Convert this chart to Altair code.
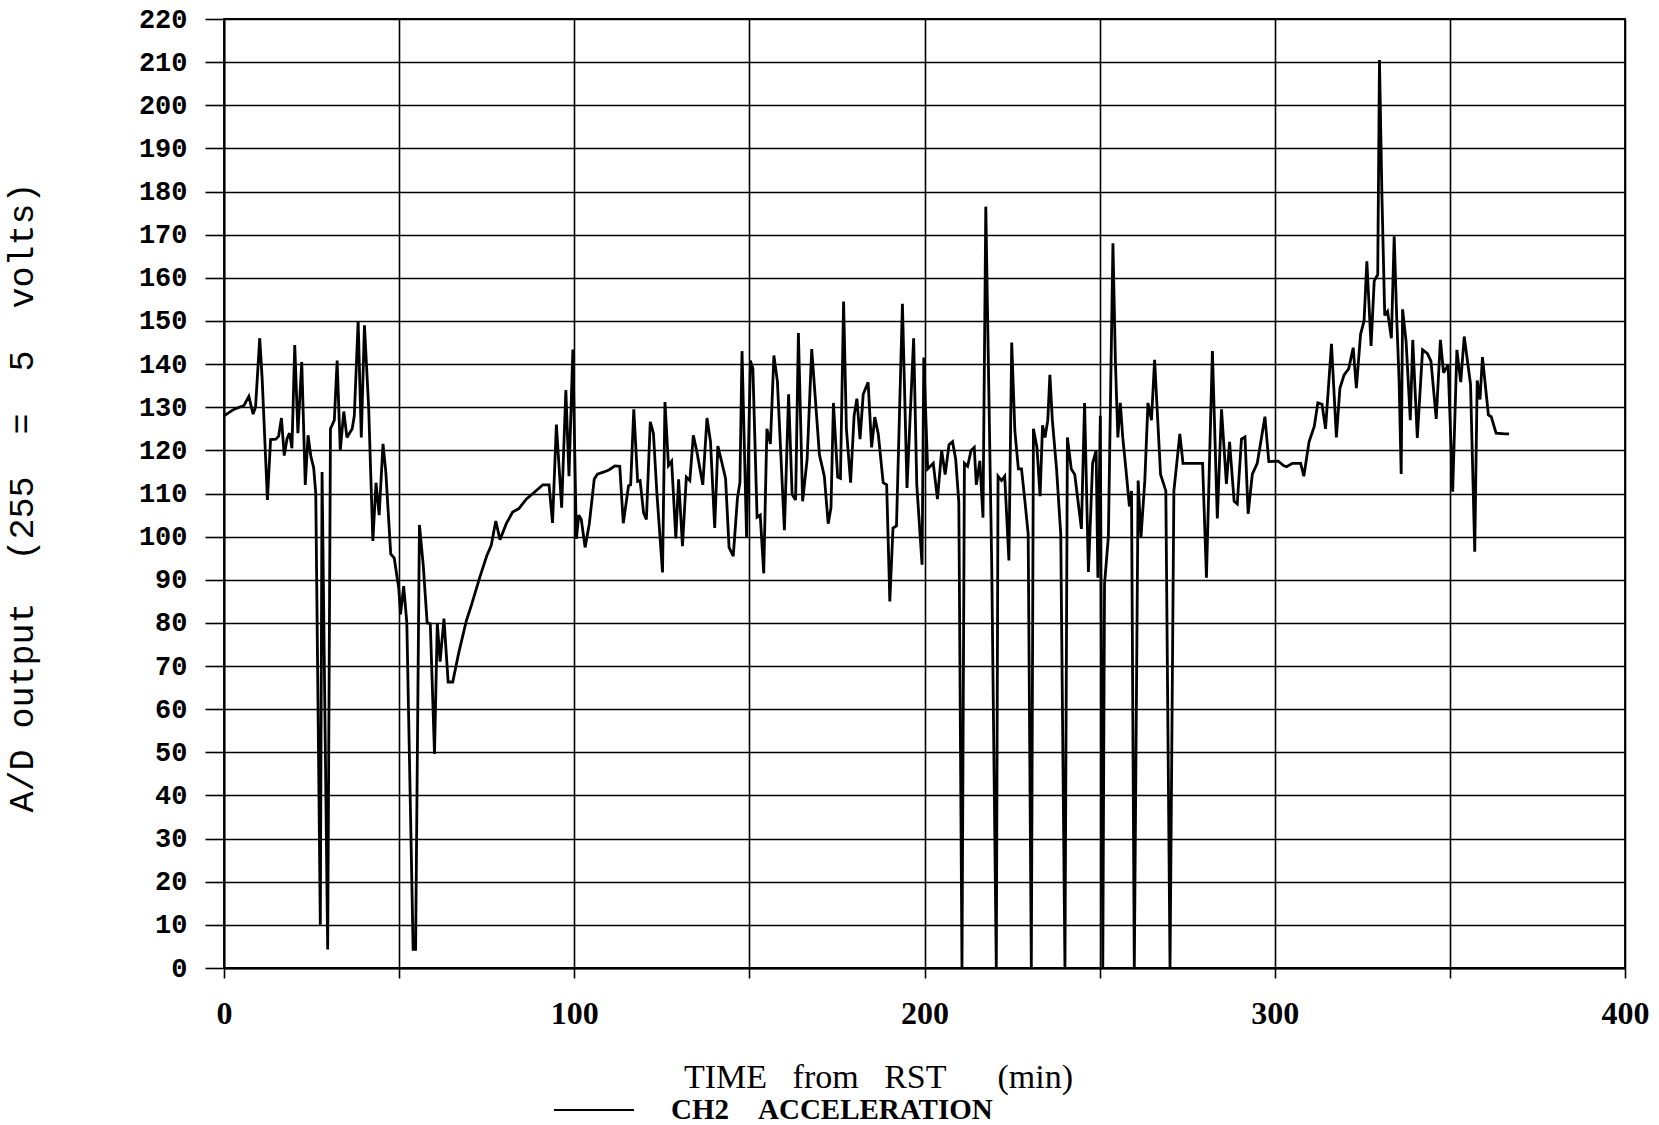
import altair as alt
import pandas as pd

# Time from RST (min)
time_min = [
    0, 2.8, 5.7, 7.1, 8.3, 9, 10.2, 10.9, 12.4, 13.3, 14.8, 15.6, 16.4, 17.2, 18, 18.7, 19.4, 20.2, 21.1, 22.2,
    23.2, 24, 24.8, 25.6, 26.2, 27.5, 28, 29.6, 30.4, 31.5, 32.3, 33.2, 34.2, 35.1, 36.6, 37.2, 38.3, 39.2, 40.1, 41.3,
    42.5, 43.4, 44.3, 45.4, 46.2, 47.6, 48.6, 49.9, 50.4, 51.3, 52.2, 54, 54.7, 55.8, 56.9, 58, 58.9, 60.1, 60.9, 61.7,
    62.8, 64, 65.3, 67, 69.2, 70.6, 73, 75, 76.3, 77.6, 78.8, 80.6, 82.4, 84.2, 86.3, 88.2, 91, 92.8, 93.8, 94.9,
    96.4, 97.6, 98.5, 99.6, 100.6, 101.3, 102, 103.1, 104.3, 105.7, 106.6, 108.5, 110, 111.6, 113, 114, 115.5, 116.1, 117, 118.1,
    118.8, 119.8, 120.6, 121.7, 122.6, 123.6, 125.2, 125.9, 126.9, 127.8, 129, 129.8, 130.9, 132, 133, 134,
    135.1, 136.7, 137.9, 138.9, 140.1, 141, 142.2, 143.2, 144.2, 145.4, 146.6, 147.3, 147.9, 149.2, 150.3, 151, 152.2, 153.1, 154.1, 155,
    156, 157, 158, 160, 161.2, 162.2, 163.2, 164, 165.2, 166.5, 167.8, 170, 171.4, 172.5, 173.3, 174, 175.2, 176, 176.9, 177.7,
    178.9, 179.9, 180.7, 181.6, 182.5, 183.9, 184.9, 185.8, 186.8, 188.2, 189.2, 190.1, 191, 192, 193.7, 195, 196.9, 197.8, 199.3, 199.8,
    200.9, 202.5, 203.7, 204.9, 205.9, 207, 208, 208.9, 209.8, 210.7, 211.4, 212.3, 213.3, 214.2, 214.8, 215.8, 216.7, 217.5, 218.2, 219.2,
    220.5, 221, 222, 222.9, 224.1, 224.9, 225.8, 226.8, 227.7, 228.7, 229.6, 230.5, 231.1, 232.1, 233, 233.7, 234.4, 235.2, 235.8, 236.5,
    237.7, 238.9, 240.1, 240.8, 241.9, 242.9, 244.8, 245.7, 246.8, 248, 249, 249.5, 250.2, 250.9, 251.4, 252.5, 253.8, 254.5, 255.2, 255.9,
    256.6, 257.5, 258.5, 259.1, 259.9, 261, 261.8, 262.9, 263.8, 264.8, 265.7, 266.5, 267.4, 268.9, 270.1, 271.2, 272.9, 273.8, 276,
    279.4, 280.5, 282.2, 283.6, 284.8, 286.2, 287.1, 288.4, 289.3, 290.5, 291.5, 292.4, 293.6, 295, 297.2, 298.3, 301, 302.5, 303.4, 305,
    307.4, 308.3, 309.8, 311.3, 312.3, 313.5, 314.5, 316.2, 317.6, 318.6, 319.8, 321.1, 322.4, 323.3, 324.5, 325.5, 326.3, 327.5, 328.4, 329.4,
    329.9, 330.6, 331.4, 332.2, 333.3, 334.1, 334.8, 335.5, 336.1, 336.5, 337.5, 338.7, 339.4, 340.7, 342.2, 343.6, 344.6, 346.1, 347.3, 348.2,
    349.5, 350.8, 352, 353.1, 354.1, 355.9, 357.1, 357.8, 358.6, 359.3, 361, 361.8, 363.2, 365.7, 366.9,
]

# A/D output (CH2 acceleration)
ad_output = [
    128, 129.5, 130.4, 132.5, 128.4, 130, 146, 136.5, 108.5, 122.5, 122.6, 123.3, 127.5, 118.8, 122.7, 124, 120.5, 144.4, 124, 140.5,
    112, 123.5, 118.6, 116, 110, 10, 115, 4.3, 125, 127, 140.8, 120, 129, 123, 125, 128, 150, 123, 149, 130,
    99, 112.5, 105, 121.5, 115, 96, 95, 88, 82, 88.5, 80, 4.3, 4.3, 102.7, 93.2, 80, 79.8, 49.6, 80, 71,
    81, 66.3, 66.3, 73, 80.5, 84, 90.5, 95.5, 98, 103.6, 99.3, 103, 105.7, 106.5, 108.7, 110, 112, 112, 103.2, 126,
    106.7, 134, 114, 143.4, 99.5, 105, 104, 97.5, 103, 113.3, 114.5, 115, 115.5, 116.4, 116.3, 103.1, 111.8, 112, 129.5, 112.8,
    113, 105.5, 104, 126.6, 124, 110, 91.7, 131.2, 116.5, 117.5, 99.6, 113.3, 97.8, 113.8, 113, 123.5,
    119.3, 112, 127.5, 122, 102, 121, 117, 113.5, 97.5, 95.5, 109, 112.5, 143, 99.8, 140.8, 139, 104.5, 105, 91.5, 125,
    121.5, 142, 136, 101.5, 133, 109.8, 108.5, 147.2, 108.2, 118, 143.5, 119, 114, 103, 106.7, 131, 113.8, 113.5, 154.5, 125,
    112.5, 128, 132, 122.6, 133, 135.8, 120.7, 127.7, 123.8, 112.5, 112, 85, 102, 102.5, 154, 111.3, 146, 112, 93.5, 141.5,
    115.7, 117, 108.7, 120, 114.4, 121.3, 122, 118, 108, 0, 117, 116.3, 120, 120.7, 112, 117.6, 104.4, 176.5, 142, 93,
    0, 114, 113, 114, 94.5, 145, 124.5, 115.7, 115.7, 108, 100.6, 0, 125, 120.7, 109.4, 125.8, 123, 127, 137.5, 127,
    115.7, 100.6, 0, 123, 115.7, 114.4, 101.8, 131, 91.8, 117, 120, 90.5, 128, 0, 89, 100, 168, 140.8, 123, 131,
    123, 115.7, 107, 110.6, 0, 113, 99.8, 113, 131, 127, 141, 128.4, 114.4, 110.6, 0, 110.6, 123.8, 117, 117,
    117, 90.5, 143, 104.2, 129.5, 112.2, 122, 108.2, 107.6, 122.6, 123.1, 105.3, 114.5, 117, 127.8, 117.4, 117.5, 116.5, 116.2, 117,
    117, 114, 122, 125.6, 131, 130.7, 125, 144.7, 123, 134.4, 137.5, 138.9, 143.8, 134.4, 146.9, 150, 163.8, 144.2, 159.3, 160.7,
    210.5, 179, 151.3, 152.2, 146, 169.6, 151.3, 136.2, 114.5, 152.7, 145.2, 127, 145.6, 122.9, 143.3, 142.4, 140.7, 127.3, 145.6, 138,
    139.8, 110.4, 143.3, 135.8, 146.4, 135.3, 96.5, 136.2, 131.8, 141.6, 128.2, 127.8, 124, 123.8, 123.8,
]

NB = "\u00a0"
series_name = "CH2" + NB * 4 + "ACCELERATION"
x_title = "TIME" + NB * 3 + "from" + NB * 3 + "RST" + NB * 6 + "(min)"
y_title = "A/D" + NB + "output" + NB * 2 + "(255" + NB * 2 + "=" + NB * 2 + "5" + NB * 2 + "volts)"
x_ticks = [0, 50, 100, 150, 200, 250, 300, 350, 400]
y_ticks = list(range(0, 221, 10))

df = pd.DataFrame({"t": time_min, "v": ad_output, "series": series_name})

chart = (
    alt.Chart(df)
    .mark_line(strokeWidth=2.8, strokeJoin="miter", strokeMiterLimit=3)
    .encode(
        x=alt.X(
            "t:Q",
            scale=alt.Scale(domain=[0, 400], nice=False, zero=False),
            axis=alt.Axis(
                values=x_ticks,
                labelExpr="datum.value % 100 == 0 ? datum.label : ''",
                title=x_title,
                titleFont="Liberation Serif",
                titleFontSize=34,
                titleFontWeight="normal",
                titleColor="black",
                titleX=654,
                titleY=109,
                titleBaseline="middle",
                labelFont="Liberation Serif",
                labelFontSize=32,
                labelFontWeight="bold",
                labelColor="black",
                labelPadding=20,
                labelFlush=False,
                tickSize=10,
                tickColor="black",
                tickWidth=1.6,
                grid=True,
                gridColor="black",
                gridWidth=1.6,
                gridOpacity=1,
                domainColor="black",
                domainWidth=1.8,
            ),
        ),
        y=alt.Y(
            "v:Q",
            scale=alt.Scale(domain=[0, 220], nice=False),
            axis=alt.Axis(
                values=y_ticks,
                format="d",
                title=y_title,
                titleFont="Liberation Mono",
                titleFontSize=35,
                titleFontWeight="normal",
                titleColor="black",
                titleAngle=270,
                titleX=-203,
                titleY=478,
                titleAlign="center",
                titleBaseline="middle",
                labelFont="Liberation Mono",
                labelFontSize=27,
                labelFontWeight="bold",
                labelColor="black",
                labelPadding=18,
                labelFlush=False,
                tickSize=19,
                tickColor="black",
                tickWidth=1.6,
                grid=True,
                gridColor="black",
                gridWidth=1.6,
                gridOpacity=1,
                domainColor="black",
                domainWidth=1.8,
            ),
        ),
        color=alt.Color(
            "series:N",
            scale=alt.Scale(range=["black"]),
            legend=alt.Legend(
                title=None,
                orient="none",
                legendX=329,
                legendY=1050,
                symbolType="stroke",
                symbolSize=6400,
                symbolStrokeWidth=2,
                symbolStrokeColor="black",
                labelFont="Liberation Serif",
                labelFontSize=29,
                labelFontWeight="bold",
                labelColor="black",
                labelOffset=36,
                labelLimit=1000,
                padding=0,
            ),
        ),
    )
    .properties(
        width=1401,
        height=949,
        autosize=alt.AutoSizeParams(type="none"),
        padding={"left": 224, "top": 19, "right": 34, "bottom": 157},
        background="white",
    )
    .configure_view(stroke="black", strokeWidth=1.8)
)

chart.save("out.html", embed_options={"renderer": "svg", "actions": False})
